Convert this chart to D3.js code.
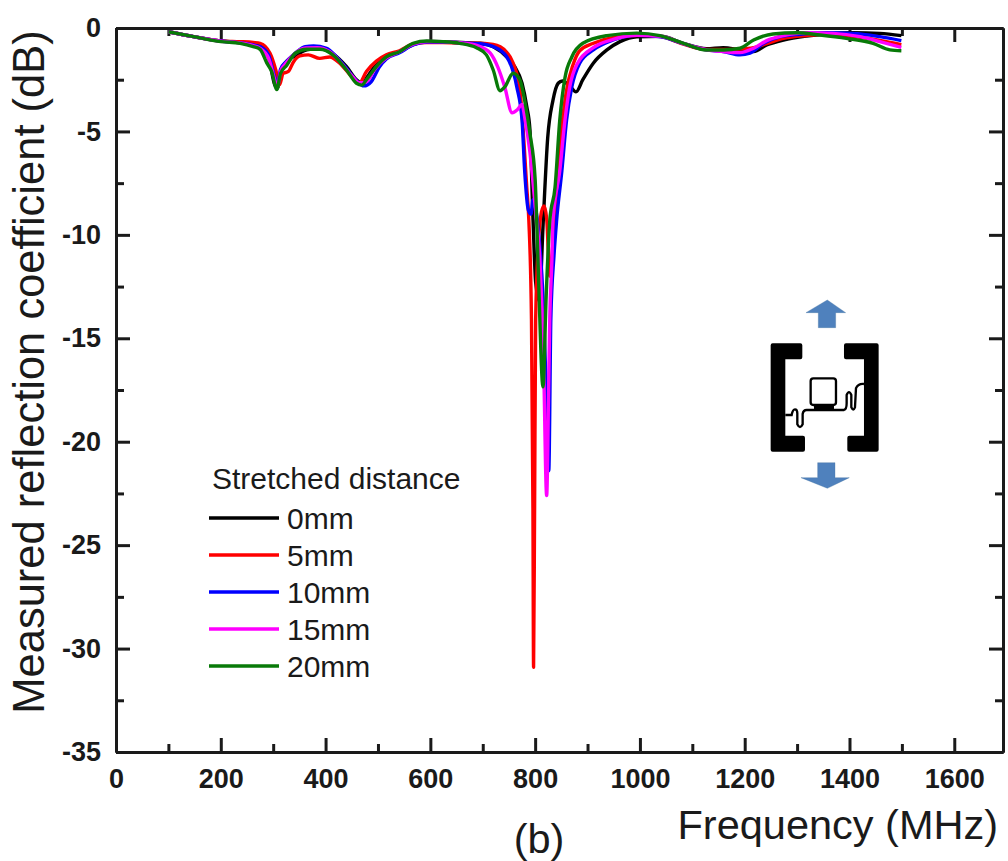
<!DOCTYPE html>
<html>
<head>
<meta charset="utf-8">
<script src="https://cdn.jsdelivr.net/npm/d3@7"></script>
<style>
    html, body { margin: 0; padding: 0; background: #fff; }
    svg { display: block; font-family: "Liberation Sans", Arial, sans-serif; }
    .axis path, .axis line { stroke: #1a1a1a; stroke-width: 3px; }
    .axis text { font-size: 27px; font-weight: bold; fill: #1a1a1a; font-family: "Liberation Sans", Arial, sans-serif; }
    .title { font-size: 41.5px; fill: #1a1a1a; }
    .legend text { font-size: 30px; fill: #1a1a1a; }
</style>
</head>
<body>
<svg id="chart" width="1008" height="861"></svg>
<script>
    /*=============== DATA ============*/

    var legendTitle = 'Stretched distance';
    var seriesNames = ['0mm', '5mm', '10mm', '15mm', '20mm'];
    var seriesColors = ['#000000', '#ff0000', '#0000ff', '#ff00ff', '#087a08'];

    var xMajorTicks = [0, 200, 400, 600, 800, 1000, 1200, 1400, 1600];
    var xMinorTicks = [100, 300, 500, 700, 900, 1100, 1300, 1500];
    var yMajorTicks = [0, -5, -10, -15, -20, -25, -30, -35];
    var yMinorTicks = [-2.5, -7.5, -12.5, -17.5, -22.5, -27.5, -32.5];

    // [MHz, dB]
    var curve0mm = [[100, -0.18], [148, -0.42], [200, -0.63], [237, -0.7], [262, -0.8], [275, -0.85], [291, -1.4], [303, -2.75], [308, -2.9], [316, -2], [326, -1.6], [342, -1.35], [364, -1.06], [389, -0.98], [414, -1.25], [440, -1.87], [459, -2.5], [469, -2.67], [480, -2.35], [497, -1.75], [516, -1.4], [541, -1.15], [567, -0.8], [593, -0.68], [624, -0.68], [660, -0.7], [695, -0.74], [720, -0.9], [746, -1.4], [761, -1.87], [775, -2.67], [784, -3.8], [790, -4.9], [796, -9.3], [801, -12.3], [808, -13.2], [815, -9.6], [824, -5.3], [834, -3.5], [844, -2.67], [852, -2.56], [866, -2.8], [878, -3.09], [891, -2.5], [911, -1.7], [937, -1.06], [962, -0.66], [994, -0.42], [1040, -0.4], [1083, -0.74], [1127, -1], [1159, -0.95], [1191, -1.06], [1217, -1.14], [1242, -0.82], [1274, -0.58], [1318, -0.39], [1356, -0.29], [1407, -0.23], [1458, -0.26], [1499, -0.37]];

    var curve5mm = [[100, -0.18], [148, -0.42], [200, -0.62], [237, -0.66], [262, -0.7], [275, -0.74], [294, -1.22], [305, -2.03], [312, -2.75], [319, -2.2], [329, -2.1], [339, -1.63], [351, -1.35], [367, -1.3], [389, -1.47], [408, -1.4], [427, -1.7], [447, -2.27], [464, -2.67], [478, -2.1], [497, -1.6], [516, -1.3], [541, -1.1], [567, -0.77], [593, -0.7], [624, -0.7], [656, -0.74], [688, -0.74], [720, -0.8], [745, -1.15], [758, -1.7], [771, -3], [784, -7.7], [788, -9.3], [793, -14.1], [795.8, -23.2], [797, -30.9], [799, -23], [801, -14.1], [806, -10.5], [812, -8.9], [817, -8.6], [822, -9.2], [828, -12], [835, -10], [842, -7.5], [850, -5], [860, -3], [872, -1.8], [885, -1.1], [910, -0.75], [950, -0.45], [1000, -0.35], [1040, -0.42], [1083, -0.78], [1127, -1.04], [1159, -1.04], [1191, -1.02], [1217, -0.95], [1242, -0.75], [1274, -0.5], [1318, -0.36], [1356, -0.3], [1407, -0.4], [1458, -0.6], [1499, -0.8]];

    var curve10mm = [[100, -0.18], [148, -0.42], [200, -0.63], [237, -0.72], [262, -0.82], [275, -0.9], [291, -1.3], [303, -2.4], [308, -2.75], [314, -2], [326, -1.6], [342, -1.22], [361, -0.9], [377, -0.87], [402, -0.98], [421, -1.4], [440, -1.95], [459, -2.55], [473, -2.8], [487, -2.6], [503, -1.87], [516, -1.5], [541, -1.2], [567, -0.82], [593, -0.68], [624, -0.68], [660, -0.72], [695, -0.76], [720, -0.9], [746, -1.4], [765, -2.85], [775, -4.45], [780, -6.9], [787, -8.8], [792, -9], [796, -8.3], [805, -9.5], [815, -13], [822, -18], [826, -21.4], [830, -14], [836, -11], [841, -9.3], [851, -6.9], [860, -4.45], [870, -2.85], [885, -1.7], [911, -1.06], [949, -0.58], [994, -0.35], [1040, -0.42], [1083, -0.76], [1127, -1.06], [1159, -1.14], [1191, -1.3], [1210, -1.22], [1236, -0.74], [1268, -0.42], [1306, -0.3], [1356, -0.23], [1407, -0.26], [1458, -0.42], [1499, -0.61]];

    var curve15mm = [[100, -0.18], [148, -0.42], [200, -0.64], [237, -0.72], [262, -0.85], [275, -0.98], [291, -1.45], [303, -2.5], [308, -2.85], [314, -2.1], [326, -1.65], [342, -1.22], [362, -0.97], [384, -0.95], [408, -1.15], [430, -1.7], [450, -2.3], [465, -2.65], [478, -2.6], [495, -1.95], [516, -1.45], [541, -1.15], [567, -0.78], [593, -0.65], [624, -0.66], [660, -0.72], [690, -0.85], [714, -1.2], [729, -1.9], [742, -2.85], [756, -4.1], [766, -3.95], [775, -3.7], [780, -4.3], [790, -6], [800, -8.6], [809, -11.2], [816, -16], [822, -22.6], [826, -17], [828, -14], [832, -11.2], [834, -9.3], [847, -6.9], [857, -4.45], [866, -2.85], [881, -1.7], [911, -0.95], [949, -0.55], [994, -0.35], [1040, -0.4], [1083, -0.75], [1127, -1.05], [1159, -1.14], [1191, -1.19], [1217, -0.98], [1242, -0.61], [1274, -0.37], [1318, -0.23], [1369, -0.26], [1420, -0.42], [1465, -0.71], [1499, -0.94]];

    var curve20mm = [[100, -0.18], [148, -0.42], [200, -0.66], [237, -0.74], [262, -0.9], [275, -1.03], [288, -1.7], [297, -2.1], [307, -2.97], [314, -2.2], [326, -1.8], [342, -1.22], [364, -1.03], [389, -1.03], [414, -1.3], [440, -2.03], [459, -2.67], [469, -2.76], [478, -2.5], [497, -1.87], [516, -1.4], [541, -1.15], [567, -0.74], [593, -0.63], [624, -0.66], [656, -0.74], [688, -0.95], [707, -1.3], [720, -2.03], [733, -3.03], [742, -2.85], [758, -2.19], [771, -2.51], [781, -3.64], [790, -5.09], [800, -7.3], [803, -9.3], [807, -12.5], [815, -17.35], [821, -13], [828, -9.3], [838, -7.7], [847, -4.45], [857, -2.4], [870, -1.4], [891, -0.74], [937, -0.37], [994, -0.25], [1038, -0.37], [1083, -0.74], [1127, -1.06], [1159, -1.06], [1191, -0.98], [1217, -0.58], [1254, -0.29], [1299, -0.23], [1344, -0.34], [1394, -0.5], [1445, -0.74], [1477, -1.06], [1499, -1.1]];

    var curves = [curve0mm, curve5mm, curve10mm, curve15mm, curve20mm];

    /*=============== SCALES ============*/

    var svg = d3.select('#chart');

    var plotLeft = 116, plotRight = 1003, plotTop = 28, plotBottom = 752;

    var xScale = d3.scaleLinear().domain([0, 1693]).range([plotLeft, plotRight]);
    var yScale = d3.scaleLinear().domain([0, -35]).range([plotTop, plotBottom]);

    /*=============== AXES ============*/

    var addAxis = function (axis, x, y) {
        return svg.append('g')
            .attr('class', 'axis')
            .attr('transform', 'translate(' + x + ',' + y + ')')
            .call(axis);
    };

    var label = function (d) { return d; };
    var none = function () { return ''; };

    addAxis(d3.axisBottom(xScale).tickValues(xMajorTicks).tickSizeInner(-14).tickSizeOuter(0).tickPadding(17).tickFormat(label), 0, plotBottom);
    addAxis(d3.axisBottom(xScale).tickValues(xMinorTicks).tickSizeInner(-8).tickSizeOuter(0).tickFormat(none), 0, plotBottom);
    addAxis(d3.axisTop(xScale).tickValues(xMajorTicks).tickSizeInner(-14).tickSizeOuter(0).tickFormat(none), 0, plotTop);
    addAxis(d3.axisTop(xScale).tickValues(xMinorTicks).tickSizeInner(-8).tickSizeOuter(0).tickFormat(none), 0, plotTop);

    addAxis(d3.axisLeft(yScale).tickValues(yMajorTicks).tickSizeInner(-14).tickSizeOuter(0).tickPadding(15).tickFormat(label), plotLeft, 0);
    addAxis(d3.axisLeft(yScale).tickValues(yMinorTicks).tickSizeInner(-8).tickSizeOuter(0).tickFormat(none), plotLeft, 0);
    addAxis(d3.axisRight(yScale).tickValues(yMajorTicks).tickSizeInner(-14).tickSizeOuter(0).tickFormat(none), plotRight, 0);
    addAxis(d3.axisRight(yScale).tickValues(yMinorTicks).tickSizeInner(-8).tickSizeOuter(0).tickFormat(none), plotRight, 0);

    /*=============== CURVES ============*/

    var line = d3.line()
        .x(function (d) { return xScale(d[0]); })
        .y(function (d) { return yScale(d[1]); })
        .curve(d3.curveMonotoneX);

    svg.append('g').selectAll('path')
        .data(curves)
        .enter().append('path')
            .attr('d', line)
            .attr('fill', 'none')
            .attr('stroke', function (d, i) { return seriesColors[i]; })
            .attr('stroke-width', 3.4)
            .attr('stroke-linejoin', 'round');

    /*=============== TITLES ============*/

    svg.append('text').attr('class', 'title')
        .attr('transform', 'translate(44,372) rotate(-90)')
        .attr('text-anchor', 'middle')
        .style('font-size', '43.5px')
        .text('Measured reflection coefficient (dB)');

    svg.append('text').attr('class', 'title')
        .attr('x', 998).attr('y', 839)
        .attr('text-anchor', 'end')
        .text('Frequency (MHz)');

    svg.append('text').attr('class', 'title')
        .attr('x', 539).attr('y', 853)
        .attr('text-anchor', 'middle')
        .text('(b)');

    /*=============== LEGEND ============*/

    var legend = svg.append('g').attr('class', 'legend');

    legend.append('text').attr('x', 212).attr('y', 489).text(legendTitle);

    var legendY = d3.scalePoint().domain(seriesNames).range([518, 666]);

    var entries = legend.selectAll('g.entry')
        .data(seriesNames)
        .enter().append('g')
            .attr('class', 'entry')
            .attr('transform', function (d) { return 'translate(0,' + legendY(d) + ')'; });

    entries.append('line')
        .attr('x1', 209).attr('x2', 279)
        .attr('stroke', function (d, i) { return seriesColors[i]; })
        .attr('stroke-width', 3.4);

    entries.append('text')
        .attr('x', 287).attr('y', 11)
        .text(function (d) { return d; });

    /*=============== TAG SKETCH, TRACED IN CROP PIXELS ============*/

    var tag = svg.append('g').attr('transform', 'translate(640,280) scale(0.3333)');

    tag.append('path').attr('fill', '#4f81bd').attr('stroke', '#3f6f9f')
        .attr('d', 'M562,60 L617,98 L587,98 L587,143 L535,143 L535,98 L498,98 Z');
    tag.append('path').attr('fill', '#4f81bd').attr('stroke', '#3f6f9f')
        .attr('d', 'M533,548 L585,548 L585,593 L628,593 L562,625 L483,593 L533,593 Z');

    // brackets
    tag.append('path').attr('fill', '#000').attr('stroke', '#000').attr('stroke-width', 12).attr('stroke-linejoin', 'round')
        .attr('d', 'M398,196 L481,196 L481,232 L430,232 L430,473 L489,473 L489,509 L398,509 Z');
    tag.append('path').attr('fill', '#000').attr('stroke', '#000').attr('stroke-width', 12).attr('stroke-linejoin', 'round')
        .attr('d', 'M710,196 L618,196 L618,232 L678,232 L678,473 L628,473 L628,509 L710,509 Z');

    // chip and antenna wire
    tag.append('rect').attr('x', 512).attr('y', 295).attr('width', 76).attr('height', 80).attr('rx', 8)
        .attr('fill', '#fff').attr('stroke', '#000').attr('stroke-width', 7);
    tag.append('rect').attr('x', 522).attr('y', 375).attr('width', 60).attr('height', 14).attr('fill', '#000');
    tag.append('path').attr('fill', 'none').attr('stroke', '#000').attr('stroke-width', 7)
        .attr('d', 'M436,405 L455,405 Q458,388 465,388 Q472,388 472,400 L472,433 Q480,450 488,433 L488,402 Q490,390 500,390 L612,390 Q620,388 620,370 L620,345 Q627,328 634,345 L634,382 Q640,395 645,382 L648,325 Q655,310 672,312');
</script>
</body>
</html>
